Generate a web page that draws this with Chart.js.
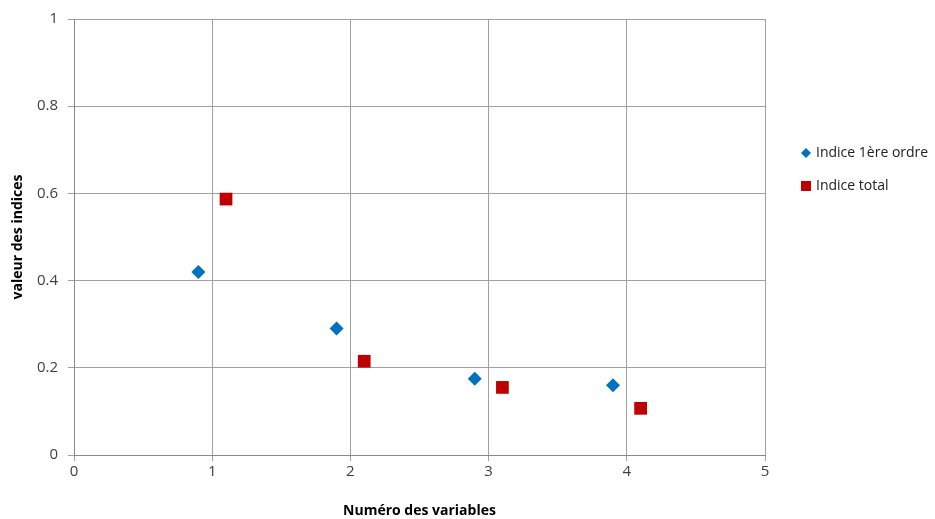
<!DOCTYPE html>
<html>
<head>
<meta charset="utf-8">
<script src="https://cdn.jsdelivr.net/npm/chart.js@4/dist/chart.umd.min.js"></script>
<style>
  html, body { margin: 0; padding: 0; background: #fff; }
  #wrap { position: relative; width: 935px; height: 519px; }
</style>
</head>
<body>
<div id="wrap"><canvas id="scatterChart" width="935" height="519"></canvas></div>
<script>
    var xTicks = [0, 1, 2, 3, 4, 5];
    var yTicks = [0, 0.2, 0.4, 0.6, 0.8, 1];

    var firstX = [0.9, 1.9, 2.9, 3.9];
    var firstY = [0.42, 0.29, 0.175, 0.16];
    var totalX = [1.1, 2.1, 3.1, 4.1];
    var totalY = [0.587, 0.215, 0.155, 0.107];

    var labels = ['Indice 1ère ordre', 'Indice total'];

    function toPoints(xs, ys) {
        return xs.map(function (x, i) { return { x: x, y: ys[i] }; });
    }

    var font = "'Open Sans', 'Lato', sans-serif";

    // legend drawn on the canvas to the right of the plot
    var sideLegend = {
        id: 'sideLegend',
        afterDraw: function (chart) {
            var c = chart.ctx;
            c.save();
            c.font = '14px ' + font;
            c.textBaseline = 'middle';
            // diamond
            c.fillStyle = '#0070C0';
            c.beginPath();
            c.moveTo(806, 148); c.lineTo(811, 153); c.lineTo(806, 158); c.lineTo(801, 153);
            c.closePath(); c.fill();
            // square
            c.fillStyle = '#C00000';
            c.fillRect(801, 181, 10, 10);
            c.fillStyle = '#222';
            c.fillText(labels[0], 816, 153);
            c.fillText(labels[1], 816, 186);
            c.restore();
        }
    };

    var ctx = document.getElementById('scatterChart').getContext('2d');
    var myChart = new Chart(ctx, {
        type: 'scatter',
        data: {
            datasets: [{
                label: labels[0],
                data: toPoints(firstX, firstY),
                pointStyle: 'rectRot',
                pointRadius: 7,
                pointHoverRadius: 7,
                backgroundColor: '#0070C0',
                borderColor: '#0070C0',
                borderWidth: 0
            }, {
                label: labels[1],
                data: toPoints(totalX, totalY),
                pointStyle: 'rect',
                pointRadius: 9,
                pointHoverRadius: 9,
                backgroundColor: '#C00000',
                borderColor: '#C00000',
                borderWidth: 0
            }]
        },
        options: {
            responsive: false,
            animation: false,
            layout: { padding: { top: 8, right: 170, left: 0, bottom: 0 } },
            plugins: {
                legend: { display: false },
                tooltip: { enabled: false }
            },
            scales: {
                x: {
                    type: 'linear',
                    min: 0,
                    max: 5,
                    afterFit: function (s) { s.height = 64; },
                    afterBuildTicks: function (s) { s.ticks = xTicks.map(function (v) { return { value: v }; }); },
                    grid: { color: '#a0a0a0', lineWidth: 1, tickLength: 6 },
                    border: { color: '#888', width: 1 },
                    ticks: { color: '#404040', font: { family: font, size: 15 }, padding: 2, maxRotation: 0 },
                    title: {
                        display: true,
                        text: 'Numéro des variables',
                        color: '#000',
                        font: { family: font, size: 14, weight: 'bold' },
                        padding: { top: 8, bottom: 0 }
                    }
                },
                y: {
                    type: 'linear',
                    min: 0,
                    max: 1,
                    afterFit: function (s) { s.width = 74; },
                    afterBuildTicks: function (s) { s.ticks = yTicks.map(function (v) { return { value: v }; }); },
                    grid: { color: '#a0a0a0', lineWidth: 1, tickLength: 6 },
                    border: { color: '#888', width: 1 },
                    ticks: {
                        color: '#404040',
                        font: { family: font, size: 15 },
                        padding: 10,
                        callback: function (v) { return String(Math.round(v * 10) / 10); }
                    },
                    title: {
                        display: true,
                        text: 'valeur des indices',
                        color: '#000',
                        font: { family: font, size: 14, weight: 'bold' },
                        padding: { top: 10, bottom: 0 }
                    }
                }
            }
        },
        plugins: [sideLegend]
    });
</script>
</body>
</html>
